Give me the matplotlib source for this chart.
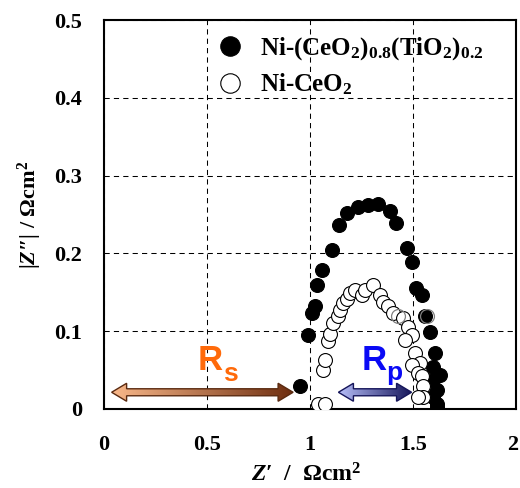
import numpy as np
import matplotlib
matplotlib.use("Agg")
import matplotlib.pyplot as plt
from matplotlib.patches import Polygon
from matplotlib.colors import LinearSegmentedColormap
from matplotlib.transforms import ScaledTranslation

plt.rcParams['font.family'] = ['Liberation Serif', 'DejaVu Serif']
plt.rcParams['font.weight'] = 'bold'
plt.rcParams['mathtext.fontset'] = 'custom'
plt.rcParams['mathtext.rm'] = 'Liberation Serif:bold'
plt.rcParams['mathtext.bf'] = 'Liberation Serif:bold'
plt.rcParams['mathtext.it'] = 'Liberation Serif:italic:bold'

# ---- data ----
ti_x = [0.951, 0.992, 1.008, 1.024, 1.032, 1.056, 1.105, 1.142, 1.178, 1.235,
        1.283, 1.332, 1.388, 1.417, 1.469, 1.493, 1.514, 1.542, 1.558, 1.583,
        1.607, 1.599, 1.631, 1.599, 1.615, 1.599, 1.615, 1.615]
ti_y = [0.029, 0.095, 0.123, 0.132, 0.159, 0.179, 0.204, 0.237, 0.252, 0.260,
        0.262, 0.264, 0.254, 0.239, 0.207, 0.189, 0.155, 0.147, 0.119, 0.099,
        0.072, 0.054, 0.044, 0.037, 0.024, 0.016, 0.007, 0.003]

ce_x = [1.040, 1.073, 1.065, 1.073, 1.089, 1.097, 1.113, 1.137, 1.146, 1.162,
        1.178, 1.194, 1.218, 1.250, 1.267, 1.307, 1.340, 1.356, 1.380, 1.404,
        1.453, 1.477, 1.493, 1.461, 1.510, 1.534, 1.493, 1.526, 1.542, 1.550,
        1.550, 1.526]
ce_y = [0.007, 0.007, 0.050, 0.063, 0.087, 0.097, 0.110, 0.119, 0.127, 0.136,
        0.142, 0.149, 0.153, 0.147, 0.153, 0.159, 0.147, 0.138, 0.132, 0.123,
        0.117, 0.106, 0.095, 0.089, 0.072, 0.059, 0.056, 0.046, 0.042, 0.029,
        0.016, 0.016]

ce_faint_x = [1.429, 1.566]
ce_faint_y = [0.119, 0.119]

label_ti = r"Ni-(CeO$_2$)$_{0.8}$(TiO$_2$)$_{0.2}$"
label_ce = r"Ni-CeO$_2$"

x_ticks = [0, 0.5, 1, 1.5, 2]
x_tick_labels = ["0", "0.5", "1", "1.5", "2"]
y_ticks = [0, 0.1, 0.2, 0.3, 0.4, 0.5]
y_tick_labels = ["0", "0.1", "0.2", "0.3", "0.4", "0.5"]

rs_span = (0.037, 0.918)
rp_span = (1.138, 1.493)
arrow_y = 0.0215

# ---- figure ----
W, H = 520, 488
fig = plt.figure(figsize=(W / 100, H / 100), dpi=100)
ax = fig.add_axes([104 / W, 1 - 409 / H, 412 / W, 389 / H])
ax.set_xlim(0, 2)
ax.set_ylim(0, 0.5)

for s in ax.spines.values():
    s.set_linewidth(1.5)
    s.set_color('black')

ax.set_xticks(x_ticks)
ax.set_xticklabels(x_tick_labels)
ax.set_yticks(y_ticks)
ax.set_yticklabels(y_tick_labels)
ax.tick_params(axis='both', length=0, labelsize=16)
ax.tick_params(axis='x', pad=19)
ax.tick_params(axis='y', pad=16)
for t in ax.get_xticklabels() + ax.get_yticklabels():
    t.set_fontweight('bold')
last = ax.get_xticklabels()[-1]
last.set_transform(last.get_transform() + ScaledTranslation(-3 / 100, 0, fig.dpi_scale_trans))

ax.grid(True, color='black', linestyle=(0, (5, 4)), linewidth=0.75)
ax.set_axisbelow(True)

ax.set_xlabel("$Z$\u2032  /  \u03a9cm$^{2}$", fontsize=17, fontweight='bold')
ax.set_ylabel("|$Z$\u2033| / \u03a9cm$^{2}$", fontsize=16, fontweight='bold')
ax.xaxis.set_label_coords(0.49, -(482 - 409) / 389)
ax.xaxis.label.set_va('baseline')
ax.yaxis.set_label_coords(-(104 - 30) / 412, 0.5)
ax.yaxis.label.set_va('center')

# ---- arrows with gradient ----
px_x = 2 / 412
px_y = 0.5 / 389


def double_arrow(x0, x1, y, c_light, c_dark, edge):
    hl = 15 * px_x
    hw = 9 * px_y
    sw = 3.5 * px_y
    verts = [(x0, y), (x0 + hl, y + hw), (x0 + hl, y + sw), (x1 - hl, y + sw),
             (x1 - hl, y + hw), (x1, y), (x1 - hl, y - hw), (x1 - hl, y - sw),
             (x0 + hl, y - sw), (x0 + hl, y - hw)]
    poly = Polygon(verts, closed=True, facecolor='none', edgecolor=edge,
                   linewidth=1.0, zorder=4)
    ax.add_patch(poly)
    cmap = LinearSegmentedColormap.from_list('g', [c_light, c_dark])
    im = ax.imshow(np.linspace(0, 1, 256).reshape(1, -1), cmap=cmap,
                   extent=[x0, x1, y - hw, y + hw], aspect='auto',
                   interpolation='bilinear', zorder=3)
    im.set_clip_path(poly)


double_arrow(rs_span[0], rs_span[1], arrow_y, '#F9B88A', '#6E2E10', '#5A2A10')
double_arrow(rp_span[0], rp_span[1], arrow_y, '#B8C0FA', '#15155A', '#15155A')
ax.set_xlim(0, 2)
ax.set_ylim(0, 0.5)

# ---- data ----
ms = 10
ax.plot(ti_x, ti_y, linestyle='none', marker='o', markersize=ms,
        markerfacecolor='black', markeredgecolor='black', markeredgewidth=0.8,
        zorder=5, label=label_ti)
ax.plot(ce_x, ce_y, linestyle='none', marker='o', markersize=ms,
        markerfacecolor='white', markeredgecolor='black', markeredgewidth=0.8,
        zorder=6, label=label_ce)
ax.plot(ce_faint_x, ce_faint_y, linestyle='none', marker='o', markersize=ms,
        markerfacecolor='none', markeredgecolor='#808080', markeredgewidth=0.9,
        zorder=7)

# ---- R labels ----
sans = ['Liberation Sans', 'DejaVu Sans']
ax.text(0.456, 0.050, "R", family=sans, fontweight='bold', fontsize=25,
        color='#FF6A0A', ha='left', va='baseline', zorder=8)
ax.text(0.578, 0.036, "s", family=sans, fontweight='bold', fontsize=19,
        color='#FF6A0A', ha='left', va='baseline', zorder=8)
ax.text(1.250, 0.050, "R", family=sans, fontweight='bold', fontsize=25,
        color='#0A0AF5', ha='left', va='baseline', zorder=8)
ax.text(1.372, 0.037, "p", family=sans, fontweight='bold', fontsize=19,
        color='#0A0AF5', ha='left', va='baseline', zorder=8)

leg = ax.legend(loc='upper left', bbox_to_anchor=((215 - 104) / 412, (409 - 35) / 389),
                frameon=False, markerscale=1.4, handlelength=1.2,
                handletextpad=0.6, labelspacing=0.4, borderpad=0, borderaxespad=0,
                prop={'family': ['Liberation Serif', 'DejaVu Serif'],
                      'weight': 'bold', 'size': 18})

fig.savefig("out.png", dpi=100)
